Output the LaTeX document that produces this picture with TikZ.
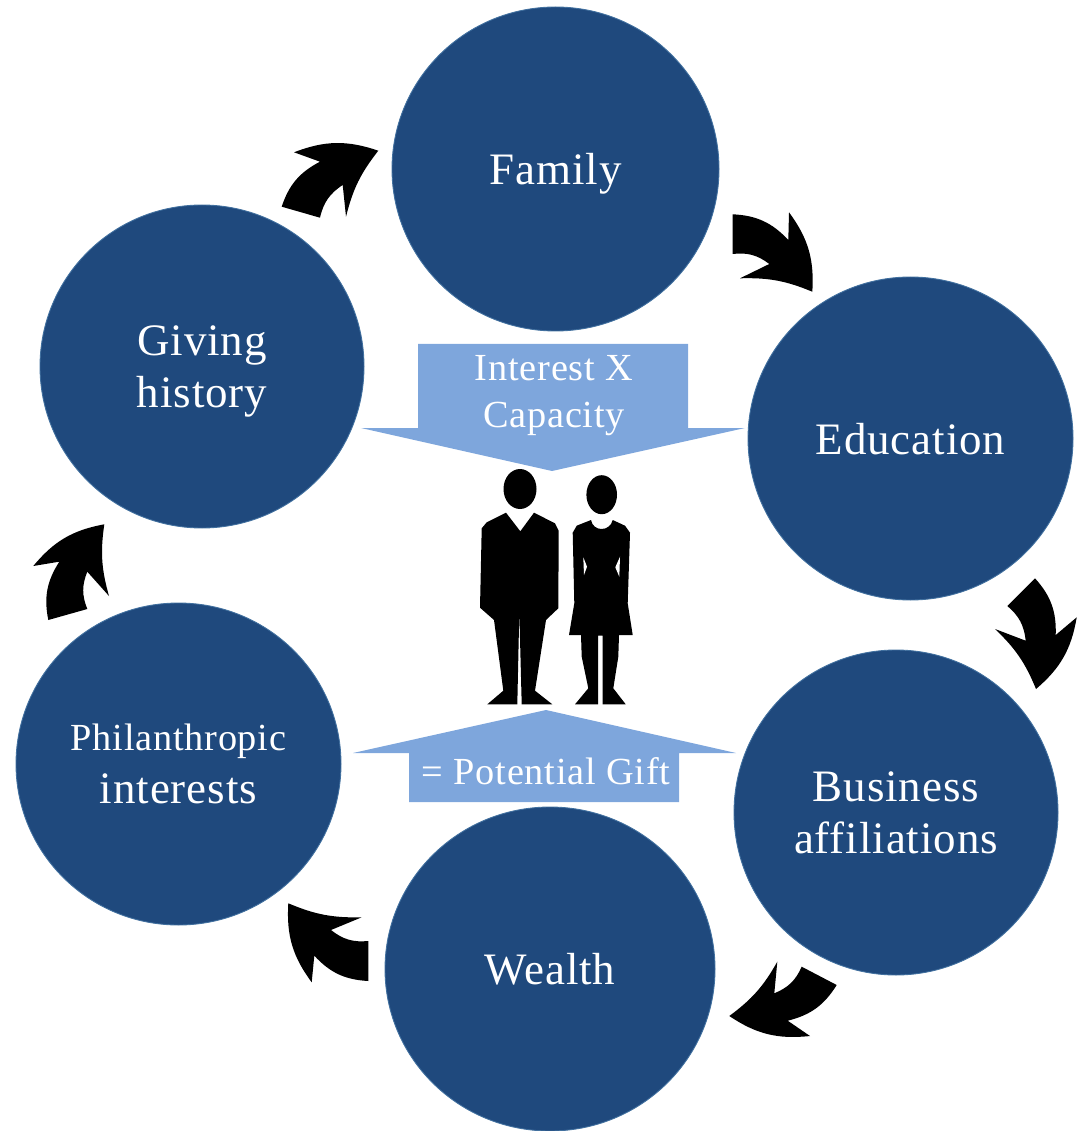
\documentclass[tikz,border=0pt]{standalone}
\usepackage{xcolor}
\usepackage{fontspec}
\usetikzlibrary{shapes.geometric}
\setmainfont{Liberation Serif}[LetterSpace=2]
\definecolor{hubblue}{HTML}{1F497D}
\definecolor{hubedge}{HTML}{41709F}
\definecolor{sumblue}{HTML}{7EA6DC}
\tikzset{
  hub/.style={ellipse, fill=hubblue, draw=hubedge, line width=0.5pt, inner sep=0pt,
    text=white, align=center, text depth=0pt, font=\fontsize{25.6}{30}\selectfont},
  sumtext/.style={text=white, align=center, inner sep=0pt, text depth=0pt, font=\fontsize{21.8}{26.6}\selectfont},
  swoosh/.style={fill=black, bend angle=22},
}
\newcommand{\swooshpath}[7]{
  \fill[swoosh] (#1) -- (#2) to[bend left] (#3) -- (#4) to[bend left=12] (#5)
    to[bend right=20] (#6) -- (#7) to[bend right] (#1) -- cycle;
}
\begin{document}
\begin{tikzpicture}[x=0.02cm, y=-0.02cm]
  \useasboundingbox (0,0) rectangle (1081,1131);

  % the ring of circles
  \foreach \x/\y/\w/\h/\name/\lbl in {
      555.5/169/327/324/family/Family,
      910.5/438.5/325/323/education/Education,
      896/812.5/324/325/business/{Business\\affiliations},
      550/969/330/324/wealth/Wealth,
      178.5/764/325/322/philanthropic/{\fontsize{21.8}{29.5}\selectfont Philanthropic\\interests},
      202/366.5/324/323/giving/{Giving\\history}%
    } {
      \node[hub, minimum width=0.02cm*\w, minimum height=0.02cm*\h] (\name) at (\x,\y) {\lbl};
    }

  % arrows between the circles
  \swooshpath{281.7,206.7}{320,217.7}{342.7,185}{346,216.7}{378.3,150.7}{294,152.3}{320,161.7}
  \swooshpath{732.7,214.3}{732.7,254}{769.3,264}{740,278.3}{812.3,291.7}{789,212.3}{788.3,240}
  \swooshpath{1035,578.3}{1007.3,606}{1025.7,640.7}{995,629}{1036,689}{1076.7,617.3}{1055.7,635}
  \swooshpath{836.7,985}{801.7,966.7}{774.3,993.3}{777.3,961.7}{729.3,1016}{810,1036}{787.7,1020.7}
  \swooshpath{368.3,981}{368.3,941}{331,930}{361.7,917.3}{288.3,903.3}{311.7,982.3}{314.3,955.7}
  \swooshpath{48.3,620}{87.3,609}{87.3,571.7}{109,596}{104.3,524.3}{33.3,566}{59.3,561.7}

  % sum arrows
  \fill[sumblue] (418,344) -- (688,344) -- (688,428) -- (745,428) -- (552,471) -- (361,428) -- (418,428) -- cycle;
  \fill[sumblue] (546,710) -- (736,753) -- (679,753) -- (679,802) -- (409,802) -- (409,753) -- (353,753) -- cycle;
  \node[sumtext] (interest) at (554,391.5) {Interest X\\Capacity};
  \node[sumtext] (gift) at (546,771) {= Potential Gift};

  % man
  \fill (520,489) ellipse [x radius=16.5, y radius=20];
  \fill (506,512.7) -- (520.3,531.3) -- (534,512.7) -- (555,523.3) -- (558.7,530.7) -- (558.3,608.3)
    -- (546,620) -- (535,690.7) -- (552.3,704.3) -- (521.7,704.3) -- (519.3,611.7) -- (517.3,704.3)
    -- (487.3,704.3) -- (503.3,690.7) -- (494,620) -- (480,607.7) -- (481.7,528.3) -- (486.7,522.3) -- cycle;

  % woman
  \fill (601.7,494.7) ellipse [x radius=15.3, y radius=19.5];
  \fill (591,520) .. controls (593,532) and (610,532) .. (612.7,520) -- (625,525.7) -- (630,532.7)
    -- (627.7,603.3) -- (632.7,635) -- (619,635) -- (618.3,656.7) -- (613.3,688.3) -- (625.7,704.3)
    -- (602.7,704.3) -- (602.7,635.7) -- (598,635.7) -- (598,704.3) -- (575,704.3) -- (588.3,688.3)
    -- (581.7,656.7) -- (581,635) -- (569,635) -- (574.3,603.3) -- (572.7,532.7) -- (576.7,525.7) -- cycle;
  \fill[white] (583.3,557.3) -- (587,566.7) -- (584,575) -- cycle;
  \fill[white] (620,556.7) -- (615.3,567.3) -- (619.3,576.7) -- cycle;
\end{tikzpicture}
\end{document}
